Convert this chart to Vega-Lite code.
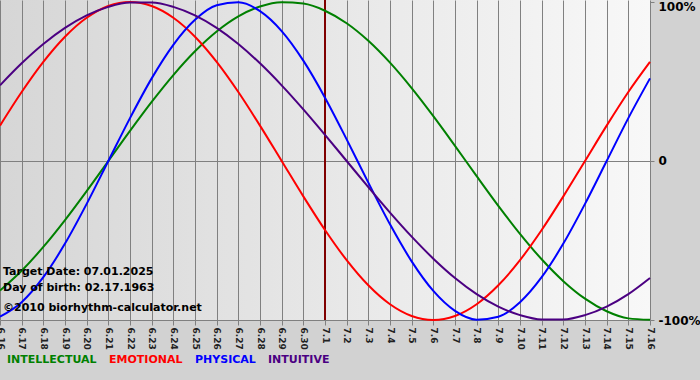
{
  "$schema": "https://vega.github.io/schema/vega-lite/v6.json",
  "width": 650,
  "height": 320,
  "autosize": {"type": "none"},
  "padding": {"left": 0, "top": 0, "right": 50, "bottom": 60},
  "background": "#d2d2d2",
  "config": {
    "view": {
      "stroke": null,
      "fill": {"gradient": "linear", "x1": 0, "y1": 0, "x2": 1, "y2": 0, "stops": [{"offset": 0, "color": "#d6d6d6"}, {"offset": 1, "color": "#f8f8f8"}]}
    },
    "font": "DejaVu Sans"
  },
  "data": {"values": [
    {"s":"INTELLECTUAL","d":"6.16","v":-0.8146},{"s":"INTELLECTUAL","d":"6.17","v":-0.6901},{"s":"INTELLECTUAL","d":"6.18","v":-0.5406},{"s":"INTELLECTUAL","d":"6.19","v":-0.3717},{"s":"INTELLECTUAL","d":"6.20","v":-0.1893},{"s":"INTELLECTUAL","d":"6.21","v":0},{"s":"INTELLECTUAL","d":"6.22","v":0.1893},{"s":"INTELLECTUAL","d":"6.23","v":0.3717},{"s":"INTELLECTUAL","d":"6.24","v":0.5406},{"s":"INTELLECTUAL","d":"6.25","v":0.6901},{"s":"INTELLECTUAL","d":"6.26","v":0.8146},{"s":"INTELLECTUAL","d":"6.27","v":0.9096},{"s":"INTELLECTUAL","d":"6.28","v":0.9718},{"s":"INTELLECTUAL","d":"6.29","v":0.9989},{"s":"INTELLECTUAL","d":"6.30","v":0.9898},{"s":"INTELLECTUAL","d":"7.1","v":0.945},{"s":"INTELLECTUAL","d":"7.2","v":0.866},{"s":"INTELLECTUAL","d":"7.3","v":0.7557},{"s":"INTELLECTUAL","d":"7.4","v":0.6182},{"s":"INTELLECTUAL","d":"7.5","v":0.4582},{"s":"INTELLECTUAL","d":"7.6","v":0.2817},{"s":"INTELLECTUAL","d":"7.7","v":0.0951},{"s":"INTELLECTUAL","d":"7.8","v":-0.0951},{"s":"INTELLECTUAL","d":"7.9","v":-0.2817},{"s":"INTELLECTUAL","d":"7.10","v":-0.4582},{"s":"INTELLECTUAL","d":"7.11","v":-0.6182},{"s":"INTELLECTUAL","d":"7.12","v":-0.7557},{"s":"INTELLECTUAL","d":"7.13","v":-0.866},{"s":"INTELLECTUAL","d":"7.14","v":-0.945},{"s":"INTELLECTUAL","d":"7.15","v":-0.9898},{"s":"INTELLECTUAL","d":"7.16","v":-0.9989},
    {"s":"EMOTIONAL","d":"6.16","v":0.2225},{"s":"EMOTIONAL","d":"6.17","v":0.4339},{"s":"EMOTIONAL","d":"6.18","v":0.6235},{"s":"EMOTIONAL","d":"6.19","v":0.7818},{"s":"EMOTIONAL","d":"6.20","v":0.901},{"s":"EMOTIONAL","d":"6.21","v":0.9749},{"s":"EMOTIONAL","d":"6.22","v":1},{"s":"EMOTIONAL","d":"6.23","v":0.9749},{"s":"EMOTIONAL","d":"6.24","v":0.901},{"s":"EMOTIONAL","d":"6.25","v":0.7818},{"s":"EMOTIONAL","d":"6.26","v":0.6235},{"s":"EMOTIONAL","d":"6.27","v":0.4339},{"s":"EMOTIONAL","d":"6.28","v":0.2225},{"s":"EMOTIONAL","d":"6.29","v":0},{"s":"EMOTIONAL","d":"6.30","v":-0.2225},{"s":"EMOTIONAL","d":"7.1","v":-0.4339},{"s":"EMOTIONAL","d":"7.2","v":-0.6235},{"s":"EMOTIONAL","d":"7.3","v":-0.7818},{"s":"EMOTIONAL","d":"7.4","v":-0.901},{"s":"EMOTIONAL","d":"7.5","v":-0.9749},{"s":"EMOTIONAL","d":"7.6","v":-1},{"s":"EMOTIONAL","d":"7.7","v":-0.9749},{"s":"EMOTIONAL","d":"7.8","v":-0.901},{"s":"EMOTIONAL","d":"7.9","v":-0.7818},{"s":"EMOTIONAL","d":"7.10","v":-0.6235},{"s":"EMOTIONAL","d":"7.11","v":-0.4339},{"s":"EMOTIONAL","d":"7.12","v":-0.2225},{"s":"EMOTIONAL","d":"7.13","v":0},{"s":"EMOTIONAL","d":"7.14","v":0.2225},{"s":"EMOTIONAL","d":"7.15","v":0.4339},{"s":"EMOTIONAL","d":"7.16","v":0.6235},
    {"s":"PHYSICAL","d":"6.16","v":-0.9791},{"s":"PHYSICAL","d":"6.17","v":-0.8879},{"s":"PHYSICAL","d":"6.18","v":-0.7308},{"s":"PHYSICAL","d":"6.19","v":-0.5196},{"s":"PHYSICAL","d":"6.20","v":-0.2698},{"s":"PHYSICAL","d":"6.21","v":0},{"s":"PHYSICAL","d":"6.22","v":0.2698},{"s":"PHYSICAL","d":"6.23","v":0.5196},{"s":"PHYSICAL","d":"6.24","v":0.7308},{"s":"PHYSICAL","d":"6.25","v":0.8879},{"s":"PHYSICAL","d":"6.26","v":0.9791},{"s":"PHYSICAL","d":"6.27","v":0.9977},{"s":"PHYSICAL","d":"6.28","v":0.9423},{"s":"PHYSICAL","d":"6.29","v":0.817},{"s":"PHYSICAL","d":"6.30","v":0.6311},{"s":"PHYSICAL","d":"7.1","v":0.3984},{"s":"PHYSICAL","d":"7.2","v":0.1362},{"s":"PHYSICAL","d":"7.3","v":-0.1362},{"s":"PHYSICAL","d":"7.4","v":-0.3984},{"s":"PHYSICAL","d":"7.5","v":-0.6311},{"s":"PHYSICAL","d":"7.6","v":-0.817},{"s":"PHYSICAL","d":"7.7","v":-0.9423},{"s":"PHYSICAL","d":"7.8","v":-0.9977},{"s":"PHYSICAL","d":"7.9","v":-0.9791},{"s":"PHYSICAL","d":"7.10","v":-0.8879},{"s":"PHYSICAL","d":"7.11","v":-0.7308},{"s":"PHYSICAL","d":"7.12","v":-0.5196},{"s":"PHYSICAL","d":"7.13","v":-0.2698},{"s":"PHYSICAL","d":"7.14","v":0},{"s":"PHYSICAL","d":"7.15","v":0.2698},{"s":"PHYSICAL","d":"7.16","v":0.5196},
    {"s":"INTUITIVE","d":"6.16","v":0.4759},{"s":"INTUITIVE","d":"6.17","v":0.6142},{"s":"INTUITIVE","d":"6.18","v":0.7357},{"s":"INTUITIVE","d":"6.19","v":0.8372},{"s":"INTUITIVE","d":"6.20","v":0.9158},{"s":"INTUITIVE","d":"6.21","v":0.9694},{"s":"INTUITIVE","d":"6.22","v":0.9966},{"s":"INTUITIVE","d":"6.23","v":0.9966},{"s":"INTUITIVE","d":"6.24","v":0.9694},{"s":"INTUITIVE","d":"6.25","v":0.9158},{"s":"INTUITIVE","d":"6.26","v":0.8372},{"s":"INTUITIVE","d":"6.27","v":0.7357},{"s":"INTUITIVE","d":"6.28","v":0.6142},{"s":"INTUITIVE","d":"6.29","v":0.4759},{"s":"INTUITIVE","d":"6.30","v":0.3247},{"s":"INTUITIVE","d":"7.1","v":0.1646},{"s":"INTUITIVE","d":"7.2","v":0},{"s":"INTUITIVE","d":"7.3","v":-0.1646},{"s":"INTUITIVE","d":"7.4","v":-0.3247},{"s":"INTUITIVE","d":"7.5","v":-0.4759},{"s":"INTUITIVE","d":"7.6","v":-0.6142},{"s":"INTUITIVE","d":"7.7","v":-0.7357},{"s":"INTUITIVE","d":"7.8","v":-0.8372},{"s":"INTUITIVE","d":"7.9","v":-0.9158},{"s":"INTUITIVE","d":"7.10","v":-0.9694},{"s":"INTUITIVE","d":"7.11","v":-0.9966},{"s":"INTUITIVE","d":"7.12","v":-0.9966},{"s":"INTUITIVE","d":"7.13","v":-0.9694},{"s":"INTUITIVE","d":"7.14","v":-0.9158},{"s":"INTUITIVE","d":"7.15","v":-0.8372},{"s":"INTUITIVE","d":"7.16","v":-0.7357}
  ]},
  "encoding": {
    "x": {
      "field": "d", "type": "ordinal", "sort": null,
      "scale": {"type": "point", "padding": 0, "domain": ["6.16","6.17","6.18","6.19","6.20","6.21","6.22","6.23","6.24","6.25","6.26","6.27","6.28","6.29","6.30","7.1","7.2","7.3","7.4","7.5","7.6","7.7","7.8","7.9","7.10","7.11","7.12","7.13","7.14","7.15","7.16"]},
      "axis": {
        "title": null, "labelAngle": 90, "labelFontSize": 9, "labelFontWeight": "bold", "labelColor": "#222222",
        "grid": true, "gridColor": "#808080", "gridOpacity": 1, "gridWidth": 1,
        "domainColor": "#808080", "tickColor": "#808080", "tickSize": 5, "labelPadding": 2
      }
    },
    "y": {
      "field": "v", "type": "quantitative",
      "scale": {"domain": [-1, 1.0125], "nice": false, "zero": false},
      "axis": {
        "orient": "right", "title": null, "values": [-1, 0, 1],
        "labelExpr": "datum.value == 0 ? '0' : (datum.value > 0 ? '100%' : '-100%')",
        "labelFontSize": 12, "labelFontWeight": "bold", "labelColor": "#000000",
        "labelBaseline": {"condition": {"test": "datum.value == 1", "value": "top"}, "value": "middle"},
        "grid": true, "gridColor": "#808080",
        "gridOpacity": {"condition": {"test": "datum.value == 0", "value": 1}, "value": 0},
        "domain": false, "tickColor": "#808080", "tickSize": 4, "labelPadding": 4
      }
    }
  },
  "layer": [
    {
      "transform": [{"filter": "datum.s == 'INTELLECTUAL' && datum.d == '7.1'"}],
      "mark": {"type": "rule", "color": "#800000", "strokeWidth": 2},
      "encoding": {"y": null}
    },
    {
      "mark": {"type": "line", "interpolate": "monotone", "strokeWidth": 2},
      "encoding": {
        "color": {
          "field": "s", "type": "nominal",
          "scale": {"domain": ["INTELLECTUAL", "EMOTIONAL", "PHYSICAL", "INTUITIVE"], "range": ["#008000", "#ff0000", "#0000ff", "#4b0082"]},
          "legend": {
            "title": null, "orient": "none", "legendX": -4, "legendY": 354, "direction": "horizontal",
            "symbolSize": 0, "symbolOpacity": 0, "symbolStrokeWidth": 0, "labelOffset": 0, "columnPadding": 1,
            "labelFontSize": 11, "labelFontWeight": "bold",
            "encode": {"labels": {"update": {"fill": {"scale": "color", "field": "value"}}}}
          }
        }
      }
    },
    {
      "transform": [{"filter": "datum.s == 'INTELLECTUAL' && datum.d == '6.16'"}],
      "mark": {"type": "text", "align": "left", "baseline": "middle", "dx": 3, "fontSize": 11, "fontWeight": "bold", "color": "#000000", "lineHeight": 16},
      "encoding": {"y": {"datum": -0.698}, "text": {"value": ["Target Date: 07.01.2025", "Day of birth: 02.17.1963"]}}
    },
    {
      "transform": [{"filter": "datum.s == 'INTELLECTUAL' && datum.d == '6.16'"}],
      "mark": {"type": "text", "align": "left", "baseline": "middle", "dx": 3, "fontSize": 11, "fontWeight": "bold", "color": "#000000"},
      "encoding": {"y": {"datum": -0.9245}, "text": {"value": "©2010 biorhythm-calculator.net"}}
    }
  ]
}
